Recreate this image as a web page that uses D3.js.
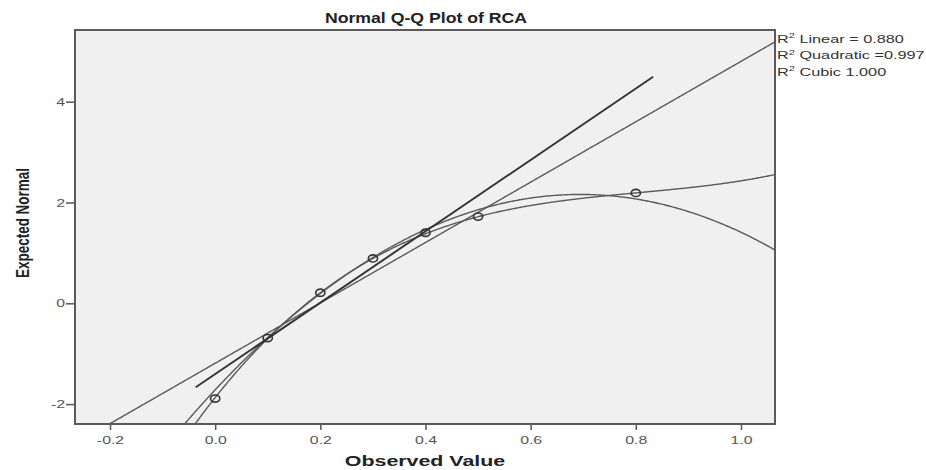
<!DOCTYPE html>
<html>
<head>
<meta charset="utf-8">
<script src="https://cdn.jsdelivr.net/npm/d3@7"></script>
<style>
  body { margin: 0; background: #fff; }
  text { font-family: "Liberation Sans", Arial, sans-serif; }
</style>
</head>
<body>
<div id="chart"></div>
<script>
// points
var observed = [0.0, 0.1, 0.2, 0.3, 0.4, 0.5, 0.8];
var expected = [-1.89, -0.69, 0.21, 0.89, 1.40, 1.72, 2.19];

// fit coefficients (constant first)
var linearFit = [-1.19, 5.99];
var quadFit = [-1.717, 11.166, -8.04];
var cubicFit = [-1.87, 13.17, -15.11, 6.24];

// short dark reference line
var refLineX = [-0.037, 0.833];
var refLineY = [-1.667, 4.496];

var xTicks = [-0.2, 0.0, 0.2, 0.4, 0.6, 0.8, 1.0];
var yTicks = [-2, 0, 2, 4];
var legendNames = ["Linear = 0.880", "Quadratic =0.997", "Cubic 1.000"];

var SX = 1.38; // the picture is stretched sideways, so text is too

var svg = d3.select("#chart").append("svg")
  .attr("width", 926)
  .attr("height", 470);

var m = {left: 75, right: 775, top: 30, bottom: 424};

var x = d3.scaleLinear().domain([-0.2666, 1.0647]).range([m.left, m.right]);
var y = d3.scaleLinear().domain([-2.395, 5.423]).range([m.bottom, m.top]);

svg.append("defs").append("clipPath").attr("id", "plotclip")
  .append("rect")
  .attr("x", m.left).attr("y", m.top)
  .attr("width", m.right - m.left).attr("height", m.bottom - m.top);

svg.append("rect")
  .attr("x", m.left).attr("y", m.top)
  .attr("width", m.right - m.left).attr("height", m.bottom - m.top)
  .attr("fill", "#f0f0f0");

// axes
var xAxis = d3.axisBottom(x).tickValues(xTicks).tickSize(6).tickSizeOuter(0).tickPadding(6)
  .tickFormat(function(d) { return d.toFixed(1); });
var gx = svg.append("g").attr("transform", "translate(0," + m.bottom + ")").call(xAxis);
gx.select(".domain").remove();
gx.selectAll("line").attr("stroke", "#555").attr("stroke-width", 1.5);
gx.selectAll("text")
  .attr("fill", "#555")
  .attr("font-size", 11.5)
  .attr("font-family", "Liberation Sans, Arial, sans-serif")
  .attr("transform", "scale(" + SX + ",1)");

var yAxis = d3.axisLeft(y).tickValues(yTicks).tickSize(9).tickSizeOuter(0)
  .tickFormat(function(d) { return String(d); });
var gy = svg.append("g").attr("transform", "translate(" + m.left + ",0)").call(yAxis);
gy.select(".domain").remove();
gy.selectAll("line").attr("stroke", "#555").attr("stroke-width", 1.5);
gy.selectAll("text")
  .attr("x", -10 / SX)
  .attr("fill", "#555")
  .attr("font-size", 11.5)
  .attr("font-family", "Liberation Sans, Arial, sans-serif")
  .attr("transform", "scale(" + SX + ",1)");

// curves
function poly(c) {
  return function(v) {
    return c.reduce(function(s, k, i) { return s + k * Math.pow(v, i); }, 0);
  };
}
var xs = d3.range(x.domain()[0], x.domain()[1] + 0.002, 0.002);

var line = d3.line()
  .x(function(d) { return x(d[0]); })
  .y(function(d) { return y(d[1]); });

var plot = svg.append("g").attr("clip-path", "url(#plotclip)");

[linearFit, quadFit, cubicFit].forEach(function(c) {
  var f = poly(c);
  plot.append("path")
    .datum(xs.map(function(v) { return [v, f(v)]; }))
    .attr("fill", "none")
    .attr("stroke", "#5a5a5a")
    .attr("stroke-width", 1.4)
    .attr("d", line);
});

plot.append("path")
  .datum(refLineX.map(function(v, i) { return [v, refLineY[i]]; }))
  .attr("fill", "none")
  .attr("stroke", "#333")
  .attr("stroke-width", 1.9)
  .attr("d", line);

// points
plot.selectAll("ellipse.pt")
  .data(observed)
  .enter().append("ellipse")
  .attr("class", "pt")
  .attr("cx", function(d) { return x(d); })
  .attr("cy", function(d, i) { return y(expected[i]); })
  .attr("rx", 4.6)
  .attr("ry", 3.6)
  .attr("fill", "none")
  .attr("stroke", "#333")
  .attr("stroke-width", 1.6);

// frame
svg.append("rect")
  .attr("x", m.left).attr("y", m.top)
  .attr("width", m.right - m.left).attr("height", m.bottom - m.top)
  .attr("fill", "none")
  .attr("stroke", "#5a5a5a")
  .attr("stroke-width", 2);

// title and axis labels
svg.append("text")
  .attr("transform", "translate(426,23) scale(1.22,1)")
  .attr("text-anchor", "middle")
  .attr("font-size", 14.5)
  .attr("font-weight", "bold")
  .attr("fill", "#222")
  .text("Normal Q-Q Plot of RCA");

svg.append("text")
  .attr("transform", "translate(425,466) scale(" + SX + ",1)")
  .attr("text-anchor", "middle")
  .attr("font-size", 15.5)
  .attr("font-weight", "bold")
  .attr("fill", "#222")
  .text("Observed Value");

svg.append("text")
  .attr("transform", "translate(29,223) scale(" + SX + ",1) rotate(-90)")
  .attr("text-anchor", "middle")
  .attr("font-size", 13.5)
  .attr("font-weight", "bold")
  .attr("fill", "#222")
  .text("Expected Normal");

// legend
legendNames.forEach(function(name, i) {
  var t = svg.append("text")
    .attr("transform", "translate(777," + (42.5 + i * 16.5) + ") scale(" + SX + ",1)")
    .attr("font-size", 11.8)
    .attr("fill", "#333");
  t.append("tspan").text("R");
  t.append("tspan").attr("font-size", 8).attr("dy", -4.5).text("2");
  t.append("tspan").attr("dy", 4.5).text(" " + name);
});
</script>
</body>
</html>
